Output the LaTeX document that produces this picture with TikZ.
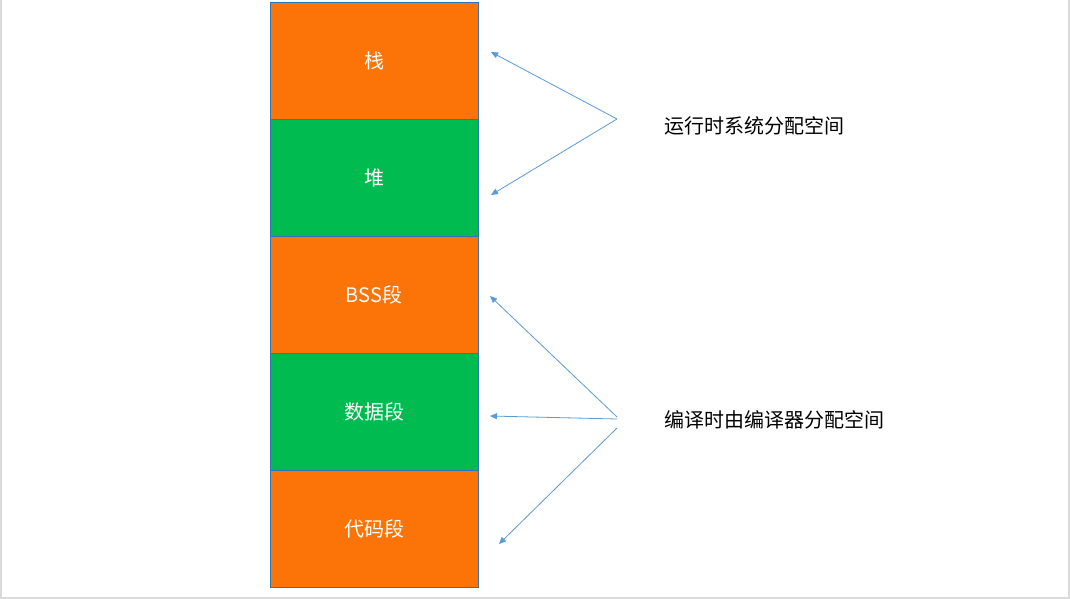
\documentclass[tikz,border=0pt]{standalone}
\usepackage{fontspec}
\newfontfamily\cjk{Noto Sans CJK SC}
\usetikzlibrary{arrows.meta}
\definecolor{segorange}{RGB}{252,115,8}
\definecolor{seggreen}{RGB}{0,187,80}
\definecolor{segborder}{RGB}{46,117,182}
\definecolor{arrowblue}{RGB}{91,155,213}
\definecolor{framegray}{RGB}{218,218,218}
\tikzset{
  seg/.style={draw=segborder, line width=1pt, minimum width=208pt, minimum height=117pt, inner sep=0pt, text=white, font=\cjk\fontsize{20pt}{23pt}\selectfont},
  orangeseg/.style={seg, fill=segorange},
  greenseg/.style={seg, fill=seggreen},
  note/.style={anchor=west, inner sep=0pt, text=black, font=\cjk\fontsize{20pt}{23pt}\selectfont},
  pointer/.style={draw=arrowblue, line width=0.8pt, -{Triangle[length=7pt,width=6pt]}}
}
\begin{document}
\begin{tikzpicture}[x=1pt,y=-1pt]
\useasboundingbox (0,0) rectangle (1070,599);
\fill[white] (0,0) rectangle (1070,599);
\draw[framegray, line width=2pt] (1,0) -- (1,598) -- (1069,598) -- (1069,0);
\node[orangeseg] (stack) at (374,61) {栈};
\node[greenseg]  (heap)  at (374,178) {堆};
\node[orangeseg] (bss)   at (374,295) {BSS段};
\node[greenseg]  (data)  at (374,412) {数据段};
\node[orangeseg] (code)  at (374,529) {代码段};
\node[note] (runtime) at (664,126) {运行时系统分配空间};
\node[note] (compile) at (664,420) {编译时由编译器分配空间};
\coordinate (r0) at (617,119);
\coordinate (c1) at (617,417);
\coordinate (c2) at (617,419);
\coordinate (c3) at (617,428);
\coordinate (t1) at (491,52);
\coordinate (t2) at (491,195);
\coordinate (t3) at (490,296);
\coordinate (t4) at (490,416);
\coordinate (t5) at (499,544);
\draw[pointer] (r0) -- (t1);
\draw[pointer] (r0) -- (t2);
\draw[pointer] (c1) -- (t3);
\draw[pointer] (c2) -- (t4);
\draw[pointer] (c3) -- (t5);
\end{tikzpicture}
\end{document}
